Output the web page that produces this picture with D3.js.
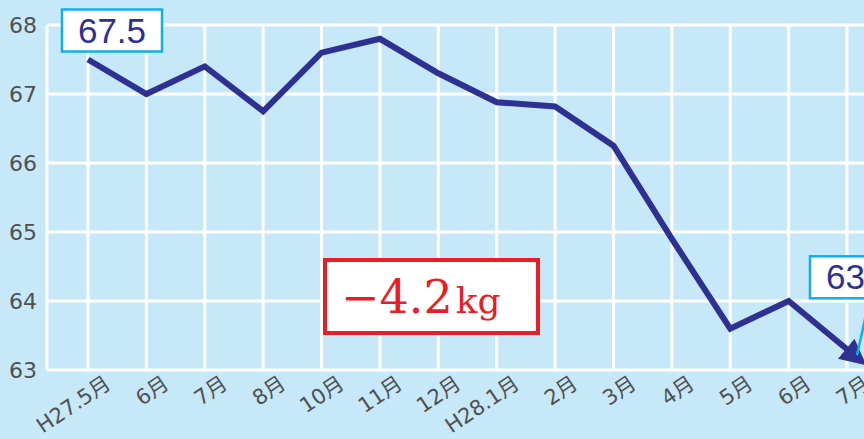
<!DOCTYPE html>
<html>
<head>
<meta charset="utf-8">
<script src="https://cdn.jsdelivr.net/npm/d3@7"></script>
<style>
  html, body { margin: 0; padding: 0; background: #c6e8f8; }
  svg { display: block; }
</style>
</head>
<body>
<div id="chart"></div>
<script>
// 1. Data
const months = ["H27.5月", "6月", "7月", "8月", "10月", "11月", "12月", "H28.1月", "2月", "3月", "4月", "5月", "6月", "7月"];
const weights = [67.5, 67.0, 67.4, 66.75, 67.6, 67.8, 67.3, 66.88, 66.82, 66.25, 64.9, 63.6, 64.0, 63.3];
const yTicks = [63, 64, 65, 66, 67, 68];
const startLabel = "67.5";
const endLabel = "63.3";
const diffLabel = { num: "−4.2", unit: "kg" };

// 2. Dimensions
const dims = { width: 864, height: 439, left: 47, top: 25, bottom: 370 };

// 3. Container
const svg = d3.select("#chart")
  .append("svg")
  .attr("width", dims.width)
  .attr("height", dims.height);

svg.append("rect")
  .attr("width", dims.width)
  .attr("height", dims.height)
  .attr("fill", "#c6e8f8");

// 4. Scales
const xScale = d3.scalePoint()
  .domain(d3.range(months.length))
  .range([88, 847]);

const yScale = d3.scaleLinear()
  .domain([63, 68])
  .range([dims.bottom, dims.top]);

// 5. Grid
const grid = svg.append("g").attr("stroke", "#fff").attr("stroke-width", 3);
grid.selectAll("line.h")
  .data(yTicks)
  .join("line")
  .attr("x1", dims.left)
  .attr("x2", dims.width)
  .attr("y1", (d) => yScale(d))
  .attr("y2", (d) => yScale(d));
grid.selectAll("line.v")
  .data([dims.left].concat(months.map((m, i) => xScale(i))))
  .join("line")
  .attr("x1", (d) => d)
  .attr("x2", (d) => d)
  .attr("y1", dims.top)
  .attr("y2", dims.bottom);

// 6. Axes labels
const labelFont = "'DejaVu Sans', 'Noto Sans CJK JP', sans-serif";
svg.append("g")
  .selectAll("text")
  .data(yTicks)
  .join("text")
  .attr("x", 37)
  .attr("y", (d) => yScale(d) + 8)
  .attr("text-anchor", "end")
  .attr("fill", "#505050")
  .style("font-family", labelFont)
  .style("font-size", "22px")
  .text((d) => d);

svg.append("g")
  .selectAll("text")
  .data(months)
  .join("text")
  .attr("transform", (d, i) => `translate(${xScale(i) + 20},${dims.bottom + 11}) rotate(-34)`)
  .attr("text-anchor", "end")
  .attr("dy", "0.35em")
  .attr("fill", "#505050")
  .style("font-family", labelFont)
  .style("font-size", "21px")
  .text((d) => d);

// 7. Line with arrow
svg.append("defs")
  .append("marker")
  .attr("id", "arrow")
  .attr("markerUnits", "userSpaceOnUse")
  .attr("viewBox", "0 -14 26 28")
  .attr("refX", 1)
  .attr("refY", 0)
  .attr("markerWidth", 26)
  .attr("markerHeight", 28)
  .attr("orient", "auto")
  .append("path")
  .attr("d", "M0,-13 L26,0 L0,13 Z")
  .attr("fill", "#2e3192");

const line = d3.line()
  .x((d, i) => xScale(i))
  .y((d) => yScale(d));

svg.append("path")
  .datum(weights)
  .attr("d", line)
  .attr("fill", "none")
  .attr("stroke", "#2e3192")
  .attr("stroke-width", 6)
  .attr("stroke-linejoin", "miter")
  .attr("marker-end", "url(#arrow)");

// 8. Annotations
function valueBox(x, y, txt) {
  const g = svg.append("g");
  g.append("rect")
    .attr("x", x).attr("y", y)
    .attr("width", 100).attr("height", 42)
    .attr("fill", "#fff")
    .attr("stroke", "#12aee6")
    .attr("stroke-width", 2.5);
  g.append("text")
    .attr("x", x + 50).attr("y", y + 33)
    .attr("text-anchor", "middle")
    .attr("fill", "#2e3192")
    .style("font-family", "'Liberation Sans', Arial, sans-serif")
    .style("font-size", "35px")
    .text(txt);
}

const lastX = xScale(weights.length - 1);
const lastY = yScale(weights[weights.length - 1]);
svg.append("line")
  .attr("x1", lastX + 22).attr("y1", lastY - 48)
  .attr("x2", lastX + 10).attr("y2", lastY + 6)
  .attr("stroke", "#12aee6")
  .attr("stroke-width", 2.5);

valueBox(xScale(0) - 26, yScale(weights[0]) - 50, startLabel);
valueBox(lastX - 37, lastY - 93, endLabel);

const diff = svg.append("g");
diff.append("rect")
  .attr("x", 325).attr("y", 260)
  .attr("width", 213).attr("height", 73)
  .attr("fill", "#fff")
  .attr("stroke", "#ea1c26")
  .attr("stroke-width", 4);
const diffText = diff.append("text")
  .attr("x", 341).attr("y", 313)
  .attr("fill", "#ea1c26")
  .style("font-family", "'DejaVu Serif', 'Liberation Serif', serif")
  .style("font-weight", 300);
diffText.append("tspan").style("font-size", "46px").text(diffLabel.num);
diffText.append("tspan").attr("dx", 3).style("font-size", "36px").text(diffLabel.unit);
</script>
</body>
</html>
